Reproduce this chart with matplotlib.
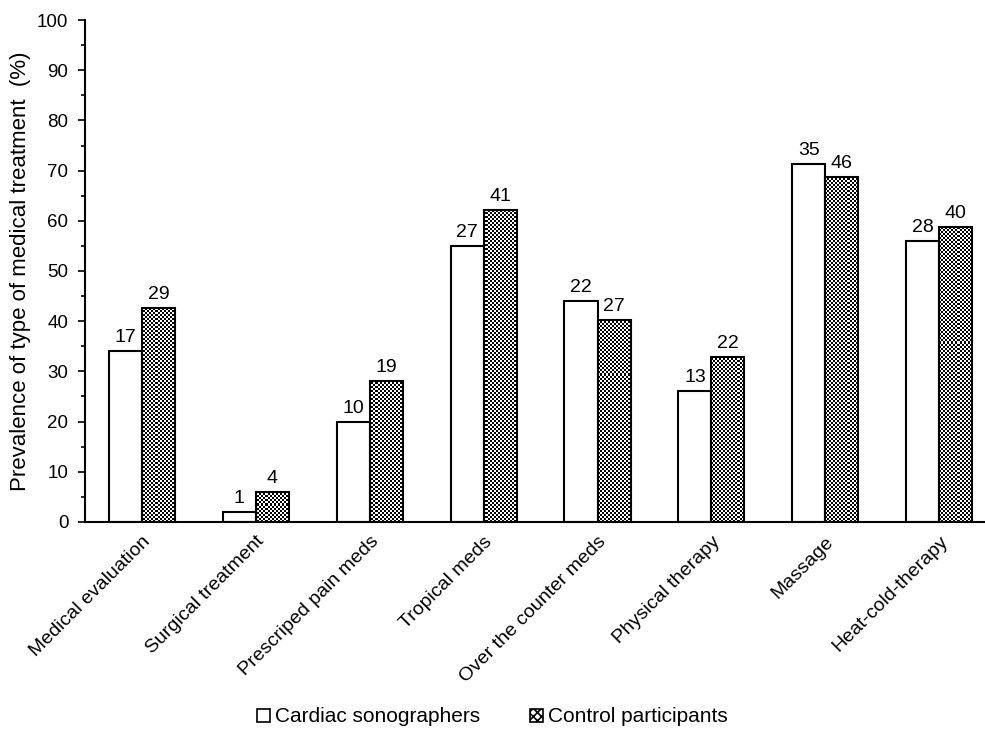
import numpy as np
import matplotlib.pyplot as plt
from matplotlib.ticker import MultipleLocator
from matplotlib.patches import Patch

plt.rcParams['font.family'] = ['Liberation Sans', 'DejaVu Sans']
plt.rcParams['hatch.linewidth'] = 1.2

categories = ['Medical evaluation', 'Surgical treatment', 'Prescriped pain meds',
              'Tropical meds', 'Over the counter meds', 'Physical therapy',
              'Massage', 'Heat-cold-therapy']
sono_pct = [34, 2, 20, 55, 44, 26.1, 71.4, 56]
ctrl_pct = [42.6, 6, 28, 62.1, 40.3, 32.8, 68.7, 58.8]
sono_n = [17, 1, 10, 27, 22, 13, 35, 28]
ctrl_n = [29, 4, 19, 41, 27, 22, 46, 40]

fig = plt.figure(figsize=(9.85, 7.31), dpi=100)
ax = fig.add_axes([0.0863, 0.286, 0.925, 0.6866])

x = np.arange(len(categories))
w = 0.29
xlim = (-0.5, 7.5)
ylim = (0, 100)

b1 = ax.bar(x - w/2, sono_pct, w, color='white', edgecolor='black', linewidth=1.5, zorder=3)
b2 = ax.bar(x + w/2, ctrl_pct, w, facecolor='none', edgecolor='black', linewidth=1.5, zorder=3)

# checkerboard fill, 2px cells, clipped to each control bar
hpx = int(round(0.6866 * 731))
wpx = int(round(0.925 * 985))
ii, jj = np.mgrid[0:hpx, 0:wpx]
checker = ((ii // 2 + jj // 2) % 2).astype(float)
for rect in b2:
    im = ax.imshow(checker, extent=(xlim[0], xlim[1], ylim[0], ylim[1]), aspect='auto',
                   interpolation='nearest', cmap='gray', vmin=0, vmax=1, zorder=2,
                   origin='lower')
    im.set_clip_path(rect)
ax.set_xlim(*xlim)
ax.set_ylim(*ylim)

for rect, n in zip(b1, sono_n):
    ax.text(rect.get_x() + rect.get_width()/2, rect.get_height() + 1, str(n),
            ha='center', va='bottom', fontsize=14)
for rect, n in zip(b2, ctrl_n):
    ax.text(rect.get_x() + rect.get_width()/2, rect.get_height() + 1, str(n),
            ha='center', va='bottom', fontsize=14)

ax.yaxis.set_major_locator(MultipleLocator(10))
ax.yaxis.set_minor_locator(MultipleLocator(5))
ax.tick_params(axis='y', which='major', length=5, width=1.2, labelsize=13.5,
               direction='out', pad=7)
ax.tick_params(axis='y', which='minor', length=3, width=1.2)
ax.tick_params(axis='x', length=0, labelsize=14, pad=8)
ax.set_xticks(x)
ax.set_xticklabels(categories, rotation=45, ha='right', rotation_mode='anchor')

for s in ['top', 'right']:
    ax.spines[s].set_visible(False)
for s in ['left', 'bottom']:
    ax.spines[s].set_linewidth(1.5)
    ax.spines[s].set_zorder(4)

ax.set_ylabel('Prevalence of type of medical treatment  (%)', fontsize=16, labelpad=4)

h1 = Patch(facecolor='white', edgecolor='black', linewidth=1.2, label='Cardiac sonographers')
h2 = Patch(facecolor='white', edgecolor='black', linewidth=1.2, hatch='xxxx',
           label='Control participants')
fig.legend(handles=[h1, h2], loc='center', bbox_to_anchor=(0.5, 14/731),
           ncol=2, frameon=False, fontsize=15, handlelength=0.6, handleheight=0.6,
           handletextpad=0.25, columnspacing=2.4)

fig.savefig('out.png', dpi=100)
